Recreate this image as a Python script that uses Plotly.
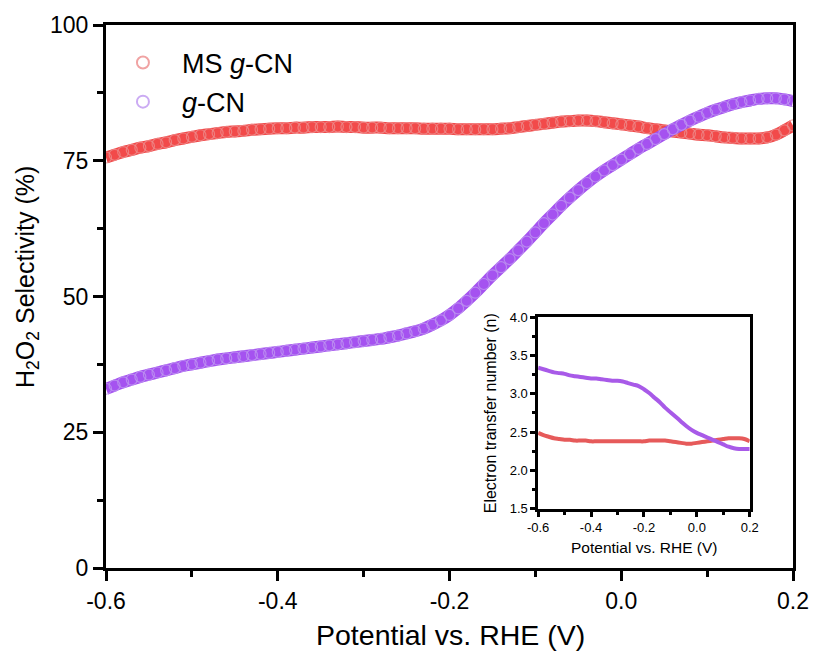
import plotly.graph_objects as go

# ---------------- data ----------------
potential_main = [round(-0.60 + 0.01 * i, 2) for i in range(81)]

ms_gcn_selectivity = [
    75.6, 76.1, 76.6, 77.0, 77.4, 77.7, 78.1, 78.4, 78.8, 79.1,
    79.4, 79.7, 79.9, 80.1, 80.3, 80.4, 80.5, 80.7, 80.8, 80.9,
    81.0, 81.0, 81.1, 81.1, 81.2, 81.2, 81.2, 81.3, 81.2, 81.2,
    81.1, 81.1, 81.1, 81.0, 81.0, 81.0, 81.0, 80.9, 80.9, 80.9,
    80.9, 80.8, 80.8, 80.8, 80.8, 80.8, 80.9, 81.0, 81.2, 81.4,
    81.6, 81.8, 82.0, 82.2, 82.3, 82.4, 82.4, 82.3, 82.1, 81.9,
    81.7, 81.5, 81.3, 81.0, 80.8, 80.6, 80.4, 80.2, 80.0, 79.8,
    79.7, 79.5, 79.3, 79.2, 79.1, 79.1, 79.1, 79.3, 79.8, 80.6,
    81.5,
]

gcn_selectivity = [
    33.0, 33.6, 34.2, 34.7, 35.2, 35.6, 36.0, 36.4, 36.8, 37.2,
    37.5, 37.8, 38.1, 38.4, 38.6, 38.8, 39.0, 39.2, 39.4, 39.6,
    39.8, 40.0, 40.2, 40.4, 40.6, 40.8, 41.0, 41.2, 41.4, 41.6,
    41.8, 42.0, 42.2, 42.5, 42.8, 43.2, 43.6, 44.1, 44.8, 45.6,
    46.6, 47.8, 49.2, 50.7, 52.3, 53.9, 55.4, 56.9, 58.5, 60.1,
    61.8, 63.5, 65.1, 66.7, 68.2, 69.6, 70.9, 72.1, 73.2, 74.2,
    75.2, 76.2, 77.2, 78.1, 79.0, 79.9, 80.8, 81.6, 82.4, 83.1,
    83.8, 84.4, 84.9, 85.4, 85.8, 86.1, 86.4, 86.5, 86.5, 86.3,
    86.0,
]

potential_inset = [round(-0.60 + 0.02 * i, 2) for i in range(41)]

gcn_n = [
    3.34, 3.32, 3.30, 3.28, 3.27, 3.26, 3.24, 3.23, 3.22, 3.21,
    3.20, 3.20, 3.19, 3.18, 3.17, 3.17, 3.16, 3.14, 3.12, 3.10,
    3.06, 3.01, 2.95, 2.89, 2.82, 2.76, 2.70, 2.64, 2.58, 2.53,
    2.49, 2.46, 2.43, 2.40, 2.37, 2.34, 2.31, 2.29, 2.28, 2.28,
    2.28,
]

ms_gcn_n = [
    2.49, 2.46, 2.44, 2.42, 2.41, 2.40, 2.40, 2.39, 2.39, 2.39,
    2.38, 2.38, 2.38, 2.38, 2.38, 2.38, 2.38, 2.38, 2.38, 2.38,
    2.38, 2.39, 2.39, 2.39, 2.39, 2.38, 2.37, 2.36, 2.35, 2.35,
    2.36, 2.37, 2.38, 2.39, 2.40, 2.41, 2.42, 2.42, 2.42, 2.41,
    2.38,
]

main_xtick_vals = [-0.6, -0.4, -0.2, 0.0, 0.2]
main_xtick_text = ["-0.6", "-0.4", "-0.2", "0.0", "0.2"]
main_ytick_vals = [0, 25, 50, 75, 100]
inset_ytick_vals = [1.5, 2.0, 2.5, 3.0, 3.5, 4.0]
inset_ytick_text = ["1.5", "2.0", "2.5", "3.0", "3.5", "4.0"]

series_names = ["MS <i>g</i>-CN", "<i>g</i>-CN"]

# ---------------- style ----------------
RED = "#f24a4a"
RED_EDGE = "rgba(236,140,140,0.8)"
PURPLE = "#a552f0"
PURPLE_EDGE = "rgba(190,150,240,0.8)"
RED_INSET = "#e65a5a"
PURPLE_INSET = "#a85ae8"
FONT = "Liberation Sans, Arial, sans-serif"

fig = go.Figure()

for y, col, edge, name, leg in [
    (ms_gcn_selectivity, RED, RED_EDGE, series_names[0], "legend"),
    (gcn_selectivity, PURPLE, PURPLE_EDGE, series_names[1], "legend2"),
]:
    fig.add_trace(go.Scatter(
        x=potential_main, y=y, mode="lines",
        line=dict(color=col, width=12, shape="spline"),
        showlegend=False, hoverinfo="skip", xaxis="x", yaxis="y",
    ))
    fig.add_trace(go.Scatter(
        x=potential_main, y=y, mode="markers", name=name, legend=leg,
        marker=dict(symbol="circle-open", size=11, color=edge,
                    line=dict(width=1.2, color=edge)),
        xaxis="x", yaxis="y",
    ))

for y, col in [(ms_gcn_n, RED_INSET), (gcn_n, PURPLE_INSET)]:
    fig.add_trace(go.Scatter(
        x=potential_inset, y=y, mode="lines",
        line=dict(color=col, width=4, shape="spline"),
        showlegend=False, xaxis="x2", yaxis="y2",
    ))

axis_common = dict(showgrid=False, zeroline=False, showline=True,
                   linecolor="black", mirror=True, ticks="outside",
                   tickcolor="black", automargin=False)

legend_common = dict(xanchor="left", yanchor="middle",
                     bgcolor="rgba(0,0,0,0)",
                     font=dict(size=27, family=FONT),
                     itemsizing="constant", itemwidth=68)

fig.update_layout(
    width=813, height=660, autosize=False,
    margin=dict(l=106, r=20, t=25, b=92),
    paper_bgcolor="white", plot_bgcolor="white",
    font=dict(family=FONT, color="black"),
    xaxis=dict(
        **axis_common, domain=[0, 1], range=[-0.6, 0.2],
        tickvals=main_xtick_vals, ticktext=main_xtick_text,
        linewidth=3, ticklen=10, tickwidth=3,
        tickfont=dict(size=23, family=FONT),
        minor=dict(dtick=0.1, tick0=-0.6, ticks="outside", ticklen=6,
                   tickwidth=3, tickcolor="black"),
    ),
    yaxis=dict(
        **axis_common, domain=[0, 1], range=[0, 100],
        tickvals=main_ytick_vals,
        linewidth=3, ticklen=10, tickwidth=3,
        tickfont=dict(size=23, family=FONT),
        minor=dict(dtick=12.5, tick0=0, ticks="outside", ticklen=6,
                   tickwidth=3, tickcolor="black"),
    ),
    xaxis2=dict(
        **axis_common, domain=[0.629, 0.937], range=[-0.6, 0.2],
        anchor="y2", tickvals=main_xtick_vals, ticktext=main_xtick_text,
        linewidth=2.5, ticklen=5, tickwidth=2.5,
        tickfont=dict(size=13, family=FONT),
        minor=dict(dtick=0.1, tick0=-0.6, ticks="outside", ticklen=3,
                   tickwidth=2.5, tickcolor="black"),
    ),
    yaxis2=dict(
        **axis_common, domain=[0.109, 0.462], range=[1.5, 4.0],
        anchor="x2", tickvals=inset_ytick_vals, ticktext=inset_ytick_text,
        linewidth=2.5, ticklen=5, tickwidth=2.5,
        tickfont=dict(size=13, family=FONT),
        minor=dict(dtick=0.25, tick0=1.5, ticks="outside", ticklen=3,
                   tickwidth=2.5, tickcolor="black"),
    ),
    legend=dict(**legend_common, x=-0.003, y=0.930),
    legend2=dict(**legend_common, x=-0.003, y=0.858),
    annotations=[
        dict(text="H<sub>2</sub>O<sub>2</sub> Selectivity (%)",
             xref="paper", yref="paper", x=-0.115, y=0.536,
             textangle=-90, showarrow=False, xanchor="center",
             yanchor="middle", font=dict(size=25, family=FONT)),
        dict(text="Potential vs. RHE (V)", xref="paper", yref="paper",
             x=0.502, y=-0.123, showarrow=False, xanchor="center",
             yanchor="middle", font=dict(size=28.5, family=FONT)),
        dict(text="Electron transfer number (n)", xref="paper",
             yref="paper", x=0.559, y=0.285, textangle=-90,
             showarrow=False, xanchor="center", yanchor="middle",
             font=dict(size=16, family=FONT)),
        dict(text="Potential vs. RHE (V)", xref="paper", yref="paper",
             x=0.783, y=0.037, showarrow=False, xanchor="center",
             yanchor="middle", font=dict(size=15.5, family=FONT)),
    ],
)

# remove the page's default 8px body margin so the 813x660 figure fits exactly
fig.write_html(
    "out.html",
    config={"displayModeBar": False},
    post_script="document.body.style.margin='0';"
                "document.body.style.overflow='hidden';",
)
